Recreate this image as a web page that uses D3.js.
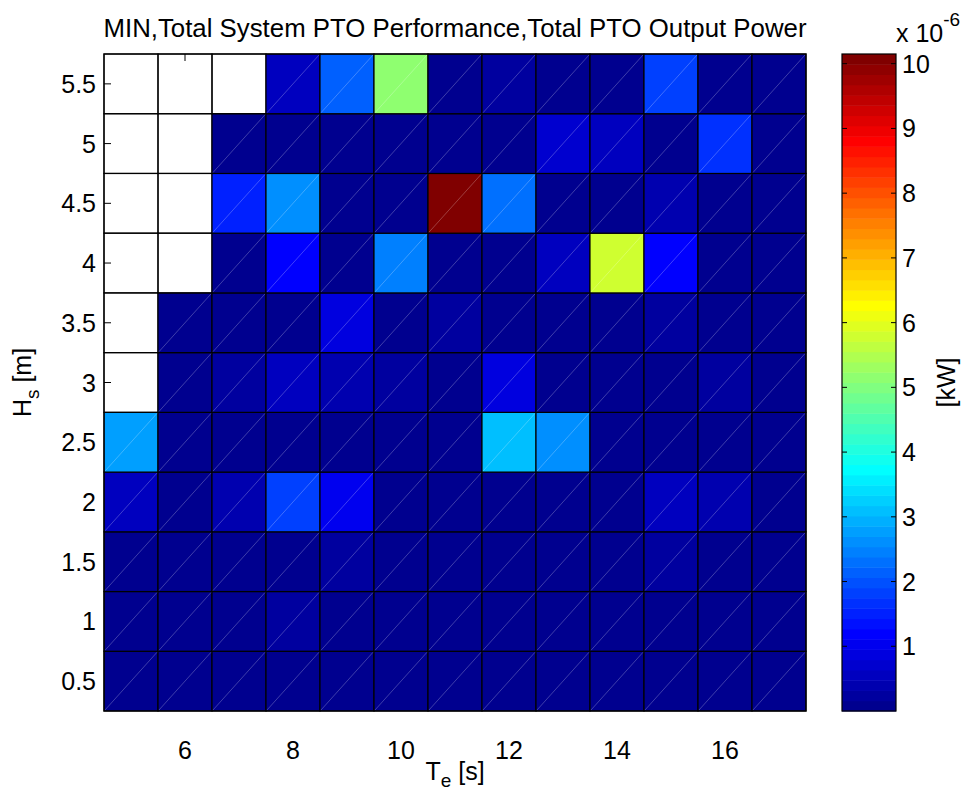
<!DOCTYPE html>
<html>
<head>
<meta charset="utf-8">
<script src="https://cdnjs.cloudflare.com/ajax/libs/d3/7.8.5/d3.min.js"></script>
<style>
body { margin: 0; background: #fff; }
text { font-family: "Liberation Sans", Arial, Helvetica, sans-serif; fill: #000; }
</style>
</head>
<body>
<div id="chart"></div>
<script>
// energy period Te [s] (columns) and significant wave height Hs [m] (rows)
var tePeriods = [5, 6, 7, 8, 9, 10, 11, 12, 13, 14, 15, 16, 17];
var hsHeights = [0.5, 1, 1.5, 2, 2.5, 3, 3.5, 4, 4.5, 5, 5.5];

// power, in 1e-6 kW, one list per Hs row; null = no result (white)
var pow05 = [0.05, 0.04, 0.05, 0.06, 0.05, 0.04, 0.03, 0.04, 0.03, 0.04, 0.05, 0.04, 0.03];
var pow10 = [0.08, 0.06, 0.07, 0.26, 0.09, 0.06, 0.05, 0.06, 0.07, 0.06, 0.08, 0.06, 0.05];
var pow15 = [0.07, 0.06, 0.08, 0.07, 0.27, 0.06, 0.05, 0.06, 0.05, 0.07, 0.25, 0.06, 0.05];
var pow20 = [0.56, 0.12, 0.40, 1.83, 1.00, 0.10, 0.08, 0.09, 0.08, 0.10, 0.52, 0.42, 0.09];
var pow25 = [2.75, 0.10, 0.09, 0.08, 0.10, 0.09, 0.08, 3.15, 2.55, 0.09, 0.08, 0.09, 0.07];
var pow30 = [null, 0.12, 0.25, 0.55, 0.40, 0.30, 0.10, 0.88, 0.12, 0.10, 0.14, 0.28, 0.10];
var pow35 = [null, 0.10, 0.12, 0.09, 0.85, 0.10, 0.28, 0.11, 0.09, 0.10, 0.22, 0.10, 0.09];
var pow40 = [null, null, 0.10, 1.20, 0.09, 2.50, 0.11, 0.10, 0.50, 5.80, 1.22, 0.10, 0.09];
var pow45 = [null, null, 1.50, 2.55, 0.10, 0.09, 10.15, 2.35, 0.12, 0.10, 0.42, 0.11, 0.09];
var pow50 = [null, null, 0.10, 0.11, 0.09, 0.10, 0.11, 0.10, 0.72, 0.58, 0.10, 1.68, 0.09];
var pow55 = [null, null, null, 0.56, 2.15, 5.15, 0.10, 0.27, 0.12, 0.11, 1.85, 0.10, 0.09];
var powerRows = [pow05, pow10, pow15, pow20, pow25, pow30, pow35, pow40, pow45, pow50, pow55];

var xTicks = [6, 8, 10, 12, 14, 16];
var yTicks = [0.5, 1, 1.5, 2, 2.5, 3, 3.5, 4, 4.5, 5, 5.5];
var cbarTicks = [1, 2, 3, 4, 5, 6, 7, 8, 9, 10];

// matlab jet(64)
function jetMap(m) {
    var n = Math.ceil(m / 4);
    var u = [];
    for (var i = 1; i <= n; i++) u.push(i / n);
    for (var i = 1; i < n; i++) u.push(1);
    for (var i = n; i >= 1; i--) u.push(i / n);
    var g0 = Math.ceil(n / 2) - (m % 4 == 1 ? 1 : 0);
    var cols = [];
    for (var i = 0; i < m; i++) cols.push([0, 0, 0]);
    for (var k = 1; k <= u.length; k++) {
        var g = g0 + k, r = g + n, b = g - n;
        if (r >= 1 && r <= m) cols[r - 1][0] = u[k - 1];
        if (g >= 1 && g <= m) cols[g - 1][1] = u[k - 1];
        if (b >= 1 && b <= m) cols[b - 1][2] = u[k - 1];
    }
    return cols.map(function(c) { return d3.rgb(c[0] * 255, c[1] * 255, c[2] * 255).formatHex(); });
}
var jet = jetMap(64);

var cells = [];
powerRows.forEach(function(row, ri) {
    row.forEach(function(v, ci) {
        cells.push({ te: tePeriods[ci], hs: hsHeights[ri], v: v });
    });
});

var cmax = d3.max(cells, function(d) { return d.v; });
var color = d3.scaleQuantize().domain([0, cmax]).range(jet);

var W = 973, H = 794;
// plot box (note: "top" is taken by window.top, so prefix everything)
var pL = 104, pR = 806, pT = 54, pB = 711;
var cbL = 842, cbR = 896;

var x = d3.scaleLinear().domain([4.5, 17.5]).range([pL, pR]);
var y = d3.scaleLinear().domain([0.25, 5.75]).range([pB, pT]);
var yc = d3.scaleLinear().domain([0, cmax]).range([pB, pT]);

var svg = d3.select("#chart").append("svg")
    .attr("width", W)
    .attr("height", H);

svg.append("rect").attr("width", W).attr("height", H).attr("fill", "#fff");

// ticks sit under the cells, visible only where a cell is white
var tickG = svg.append("g");
yTicks.forEach(function(t) {
    tickG.append("line").attr("x1", pL).attr("x2", pL + 7)
        .attr("y1", y(t)).attr("y2", y(t)).attr("stroke", "#000");
});
xTicks.forEach(function(t) {
    tickG.append("line").attr("x1", x(t)).attr("x2", x(t))
        .attr("y1", pT).attr("y2", pT + 7).attr("stroke", "#000");
});

var cellG = svg.append("g");
cellG.selectAll("rect.cell")
    .data(cells)
    .enter().append("rect")
    .attr("class", "cell")
    .attr("x", function(d) { return x(d.te - 0.5); })
    .attr("y", function(d) { return y(d.hs + 0.25); })
    .attr("width", function(d) { return x(d.te + 0.5) - x(d.te - 0.5); })
    .attr("height", function(d) { return y(d.hs - 0.25) - y(d.hs + 0.25); })
    .attr("fill", function(d) { return d.v == null ? "none" : color(d.v); })
    .attr("stroke", "#000")
    .attr("stroke-width", 1.2);

// faint diagonal from the triangulated faces
cellG.selectAll("line.diag")
    .data(cells.filter(function(d) { return d.v != null; }))
    .enter().append("line")
    .attr("class", "diag")
    .attr("x1", function(d) { return x(d.te - 0.5) + 1; })
    .attr("y1", function(d) { return y(d.hs - 0.25) - 1; })
    .attr("x2", function(d) { return x(d.te + 0.5) - 1; })
    .attr("y2", function(d) { return y(d.hs + 0.25) + 1; })
    .attr("stroke", "#fff")
    .attr("stroke-opacity", 0.35)
    .attr("stroke-width", 0.7);

// axes box
svg.append("rect")
    .attr("x", pL).attr("y", pT)
    .attr("width", pR - pL).attr("height", pB - pT)
    .attr("fill", "none").attr("stroke", "#000").attr("stroke-width", 1.2);

var fs = 25;

svg.selectAll("text.xt")
    .data(xTicks)
    .enter().append("text")
    .attr("class", "xt")
    .attr("x", function(d) { return x(d); })
    .attr("y", 759)
    .attr("text-anchor", "middle")
    .style("font-size", fs + "px")
    .text(function(d) { return d; });

svg.selectAll("text.yt")
    .data(yTicks)
    .enter().append("text")
    .attr("class", "yt")
    .attr("x", 96)
    .attr("y", function(d) { return y(d) + 9; })
    .attr("text-anchor", "end")
    .style("font-size", fs + "px")
    .text(function(d) { return d; });

// title and axis labels
svg.append("text")
    .attr("x", (pL + pR) / 2)
    .attr("y", 37)
    .attr("text-anchor", "middle")
    .style("font-size", "25.8px")
    .text("MIN,Total System PTO Performance,Total PTO Output Power");

var xl = svg.append("text")
    .attr("x", 455).attr("y", 780)
    .attr("text-anchor", "middle")
    .style("font-size", fs + "px");
xl.append("tspan").text("T");
xl.append("tspan").attr("dy", 7).style("font-size", "19px").text("e");
xl.append("tspan").attr("dy", -7).text(" [s]");

var yl = svg.append("text")
    .attr("transform", "translate(31," + ((pT + pB) / 2) + ") rotate(-90)")
    .attr("text-anchor", "middle")
    .style("font-size", fs + "px");
yl.append("tspan").text("H");
yl.append("tspan").attr("dy", 8).style("font-size", "19px").text("s");
yl.append("tspan").attr("dy", -8).text(" [m]");

// colorbar
var cbG = svg.append("g");
cbG.selectAll("rect.cb")
    .data(jet)
    .enter().append("rect")
    .attr("class", "cb")
    .attr("x", cbL)
    .attr("width", cbR - cbL)
    .attr("y", function(d, i) { return yc(cmax * (i + 1) / 64); })
    .attr("height", function(d, i) { return yc(cmax * i / 64) - yc(cmax * (i + 1) / 64) + 0.5; })
    .attr("fill", function(d) { return d; });

cbarTicks.forEach(function(t) {
    cbG.append("line").attr("x1", cbL).attr("x2", cbL + 5)
        .attr("y1", yc(t)).attr("y2", yc(t)).attr("stroke", "#000");
    cbG.append("line").attr("x1", cbR - 5).attr("x2", cbR)
        .attr("y1", yc(t)).attr("y2", yc(t)).attr("stroke", "#000");
});

cbG.append("rect")
    .attr("x", cbL).attr("y", pT)
    .attr("width", cbR - cbL).attr("height", pB - pT)
    .attr("fill", "none").attr("stroke", "#000").attr("stroke-width", 1.2);

svg.selectAll("text.ct")
    .data(cbarTicks)
    .enter().append("text")
    .attr("class", "ct")
    .attr("x", 902)
    .attr("y", function(d) { return yc(d) + 9; })
    .style("font-size", fs + "px")
    .text(function(d) { return d; });

var ex = svg.append("text")
    .attr("x", 896).attr("y", 42)
    .style("font-size", fs + "px");
ex.append("tspan").text("x 10");
ex.append("tspan").attr("dy", -16).style("font-size", "19px").text("-6");

svg.append("text")
    .attr("transform", "translate(955," + ((pT + pB) / 2) + ") rotate(-90)")
    .attr("text-anchor", "middle")
    .style("font-size", fs + "px")
    .text("[kW]");
</script>
</body>
</html>
